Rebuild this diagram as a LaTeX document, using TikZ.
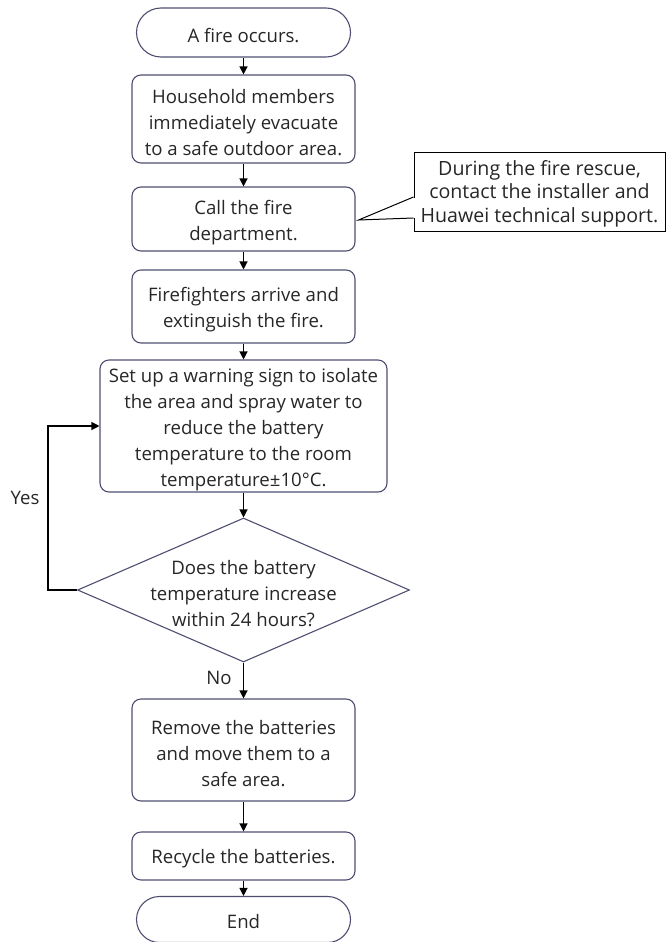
\documentclass[tikz,border=0pt]{standalone}
\usepackage{fontspec}
\setmainfont{Open Sans}
\usetikzlibrary{arrows.meta,shapes.geometric,calc}
\definecolor{boxc}{HTML}{4E4E72}
\definecolor{txtc}{HTML}{262626}
\begin{document}
\begin{tikzpicture}[x=1pt,y=-1pt,
  lbl/.style={font=\fontsize{18.6}{26}\selectfont, text=txtc, align=center, inner sep=0pt},
  frame/.style={draw=boxc, line width=1.1pt, inner sep=0pt},
  box/.style={frame, rounded corners=9pt, minimum width=223pt},
  term/.style={frame, minimum width=214pt},
  arr/.style={draw=black, line width=1.2pt, -{Triangle[length=8pt,width=8pt]}},
  callbox/.style={draw=black, line width=1pt, inner sep=0pt, minimum width=251pt, minimum height=79pt},
  calltxt/.style={lbl, font=\fontsize{19.6}{23.5}\selectfont}
]
\useasboundingbox (0,0) rectangle (666,942);

\node[term, minimum height=49pt, rounded corners=24.5pt] (s) at (243.5,32.5) {};
\node[lbl] (st) at ($(s.center)+(0,3)$) {A fire occurs.};
\node[box, minimum height=88pt] (b2) at (243.5,119) {};
\node[lbl] (b2t) at ($(b2.center)+(0,3.5)$) {Household members\\immediately evacuate\\to a safe outdoor area.};
\node[box, minimum height=64pt] (b3) at (243.5,219) {};
\node[lbl] (b3t) at ($(b3.center)+(0,3.5)$) {Call the fire\\department.};
\node[callbox] (c) at (539.5,192) {};
\node[calltxt] (ct) at ($(c.center)+(0,1.5)$) {During the fire rescue,\\contact the installer and\\Huawei technical support.};
\node[box, minimum height=73pt] (b4) at (243.5,306.5) {};
\node[lbl] (b4t) at ($(b4.center)+(0,3.5)$) {Firefighters arrive and\\extinguish the fire.};
\node[box, minimum width=287pt, minimum height=132pt] (b5) at (243.5,426) {};
\node[lbl] (b5t) at ($(b5.center)+(0,3.5)$) {Set up a warning sign to isolate\\the area and spray water to\\reduce the battery\\temperature to the room\\temperature±10°C.};
\node[diamond, frame, minimum width=332pt, minimum height=144pt] (d) at (243.5,590) {};
\node[lbl] (dt) at ($(d.center)+(0,3.5)$) {Does the battery\\temperature increase\\within 24 hours?};
\node[box, minimum height=102pt] (b6) at (243.5,750) {};
\node[lbl] (b6t) at ($(b6.center)+(0,3.5)$) {Remove the batteries\\and move them to a\\safe area.};
\node[box, minimum height=48pt] (b7) at (243.5,856) {};
\node[lbl] (b7t) at ($(b7.center)+(0,3)$) {Recycle the batteries.};
\node[term, minimum height=46pt, rounded corners=23pt] (e) at (243.5,919.5) {};
\node[lbl] (et) at ($(e.center)+(0,2)$) {End};

\node[lbl] (yes) at (25,498) {Yes};
\node[lbl] (no) at (219,678) {No};

\draw[arr] (s.south) -- (b2.north);
\draw[arr] (b2.south) -- (b3.north);
\draw[arr] (b3.south) -- (b4.north);
\draw[arr] (b4.south) -- (b5.north);
\draw[arr] (b5.south) -- (d.north);
\draw[arr] (d.south) -- (b6.north);
\draw[arr] (b6.south) -- (b7.north);
\draw[arr] (b7.south) -- (e.north);
\draw[arr] (d.west) -- ++(-29,0) |- (b5.west);

% callout pointer
\draw[white, line width=2pt] ($(c.west)+(0,5.5)$) -- ($(c.west)+(0,26)$);
\draw[black, line width=1pt] ($(c.west)+(0,5)$) -- ($(b3.east)+(3,1)$) -- ($(c.west)+(0,26)$);
\end{tikzpicture}
\end{document}
